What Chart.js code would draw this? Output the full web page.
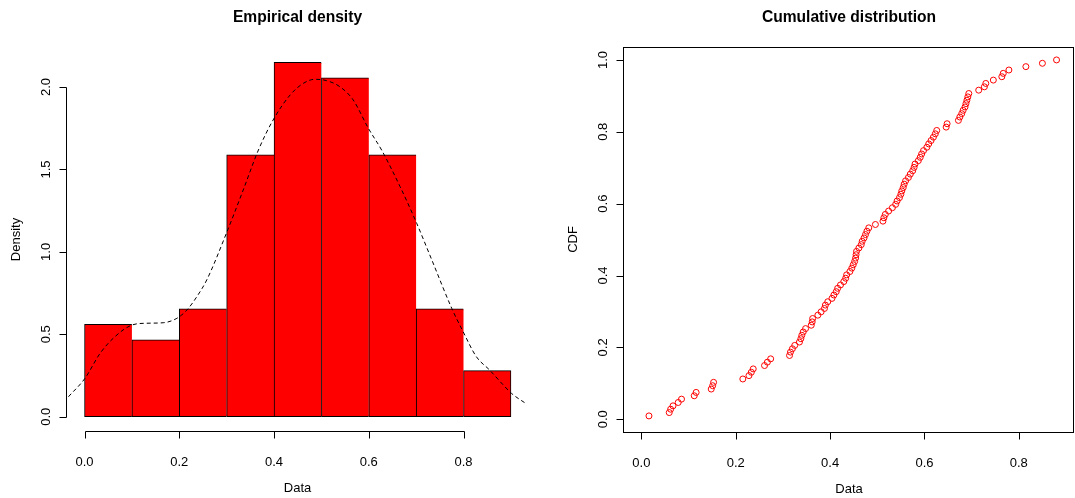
<!DOCTYPE html>
<html>
<head>
<meta charset="utf-8">
<script src="https://cdn.jsdelivr.net/npm/chart.js@4.4.0/dist/chart.umd.min.js"></script>
<style>
  body { margin: 0; background: #fff; }
  #wrap { position: relative; width: 1075px; height: 498px; }
  canvas { position: absolute; top: 0; }
</style>
</head>
<body>
<div id="wrap">
  <canvas id="densityChart" width="540" height="498" style="left:0"></canvas>
  <canvas id="cdfChart" width="535" height="498" style="left:540px"></canvas>
</div>
<script>
// histogram bins (width 0.1) and their densities
const binStarts = [0.0, 0.1, 0.2, 0.3, 0.4, 0.5, 0.6, 0.7, 0.8];
const binDensity = [0.561, 0.467, 0.654, 1.589, 2.150, 2.056, 1.589, 0.654, 0.280];

// kernel density curve
const kdeX = [-0.034, 0.001, 0.033, 0.064, 0.100, 0.131, 0.166, 0.195, 0.216, 0.237, 0.258,
              0.300, 0.335, 0.367, 0.398, 0.434, 0.462, 0.486, 0.511, 0.539, 0.567, 0.599, 0.627,
              0.666, 0.701, 0.733, 0.775, 0.799, 0.827, 0.855, 0.884, 0.901, 0.933];
const kdeY = [0.121, 0.233, 0.385, 0.485, 0.556, 0.567, 0.570, 0.597, 0.647, 0.728, 0.830,
              1.117, 1.376, 1.618, 1.800, 1.952, 2.023, 2.047, 2.039, 2.002, 1.922, 1.750, 1.618,
              1.396, 1.174, 0.951, 0.658, 0.516, 0.364, 0.283, 0.192, 0.142, 0.077];

// sorted sample values (n = 107)
const sample = [
  0.016, 0.059, 0.062, 0.067, 0.078, 0.085,
  0.112, 0.116, 0.148, 0.151, 0.153,
  0.215, 0.228, 0.233, 0.237, 0.261, 0.267, 0.274,
  0.314, 0.316, 0.320, 0.325, 0.335, 0.338, 0.340, 0.343, 0.348, 0.360, 0.362, 0.363, 0.374, 0.381, 0.388, 0.390, 0.395,
  0.404, 0.408, 0.413, 0.416, 0.422, 0.429, 0.433, 0.435, 0.442, 0.446, 0.449, 0.452, 0.454, 0.455, 0.456, 0.461, 0.466,
  0.468, 0.472, 0.475, 0.478, 0.482, 0.496,
  0.512, 0.514, 0.517, 0.524, 0.532, 0.539, 0.542, 0.547, 0.550, 0.552, 0.555, 0.557, 0.560, 0.566, 0.570, 0.575, 0.578,
  0.580, 0.587, 0.591, 0.594, 0.598,
  0.605, 0.609, 0.614, 0.619, 0.623, 0.626, 0.646, 0.648, 0.672, 0.675, 0.679, 0.682, 0.686, 0.688, 0.690, 0.692, 0.694,
  0.715, 0.727, 0.730, 0.746, 0.764, 0.767, 0.779,
  0.815, 0.850, 0.880
];

const xTicks = [0, 0.2, 0.4, 0.6, 0.8];
const densityTicks = [0, 0.5, 1.0, 1.5, 2.0];
const cdfTicks = [0, 0.2, 0.4, 0.6, 0.8, 1.0];

const FONT = '"Liberation Sans", Arial, Helvetica, sans-serif';

// R style axes drawn from the chart's own scales
const rAxes = {
  id: 'rAxes',
  afterDraw(chart, args, o) {
    const ctx = chart.ctx;
    const area = chart.chartArea;
    const sx = chart.scales.x, sy = chart.scales.y;
    ctx.save();
    ctx.strokeStyle = '#000';
    ctx.fillStyle = '#000';
    ctx.lineWidth = 1;

    const xb = Math.round(area.bottom) + 0.5;
    const yl = Math.round(area.left) - 0.5;

    ctx.beginPath();
    ctx.moveTo(Math.round(sx.getPixelForValue(o.xTicks[0])) + 0.5, xb);
    ctx.lineTo(Math.round(sx.getPixelForValue(o.xTicks[o.xTicks.length - 1])) + 0.5, xb);
    o.xTicks.forEach(v => {
      const p = Math.round(sx.getPixelForValue(v)) + 0.5;
      ctx.moveTo(p, xb);
      ctx.lineTo(p, xb + 7);
    });
    ctx.moveTo(yl, Math.round(sy.getPixelForValue(o.yTicks[0])) + 0.5);
    ctx.lineTo(yl, Math.round(sy.getPixelForValue(o.yTicks[o.yTicks.length - 1])) + 0.5);
    o.yTicks.forEach(v => {
      const p = Math.round(sy.getPixelForValue(v)) + 0.5;
      ctx.moveTo(yl, p);
      ctx.lineTo(yl - 7, p);
    });
    ctx.stroke();

    if (o.box) {
      ctx.strokeRect(yl, Math.round(area.top) + 0.5, Math.round(area.right) - yl - 0.5, xb - Math.round(area.top) - 0.5);
    }

    ctx.font = '13px ' + FONT;
    ctx.textAlign = 'center';
    ctx.textBaseline = 'alphabetic';
    o.xTicks.forEach(v => ctx.fillText(v.toFixed(1), sx.getPixelForValue(v), area.bottom + 35));
    ctx.fillText(o.xTitle, (area.left + area.right) / 2, area.bottom + 61);

    o.yTicks.forEach(v => {
      ctx.save();
      ctx.translate(area.left - 17, sy.getPixelForValue(v));
      ctx.rotate(-Math.PI / 2);
      ctx.fillText(v.toFixed(1), 0, 0);
      ctx.restore();
    });
    ctx.save();
    ctx.translate(area.left - 47, (area.top + area.bottom) / 2);
    ctx.rotate(-Math.PI / 2);
    ctx.fillText(o.yTitle, 0, 0);
    ctx.restore();

    ctx.font = 'bold 15.6px ' + FONT;
    ctx.fillText(o.title, (area.left + area.right) / 2, 22);
    ctx.restore();
  }
};

const bars = binStarts.map((b, i) => ({ x: b + 0.05, y: binDensity[i] }));
const kdePoints = kdeX.map((x, i) => ({ x: x, y: kdeY[i] }));

new Chart(document.getElementById('densityChart'), {
  type: 'bar',
  data: {
    datasets: [
      {
        type: 'line',
        data: kdePoints,
        borderColor: '#000',
        borderWidth: 1,
        borderDash: [4, 3],
        pointRadius: 0,
        fill: false,
        cubicInterpolationMode: 'monotone',
        order: 0
      },
      {
        type: 'bar',
        data: bars,
        backgroundColor: '#ff0000',
        borderColor: '#000',
        borderWidth: ctx => ({ top: 1, left: 1, bottom: 1, right: ctx.dataIndex === binStarts.length - 1 ? 1 : 0 }),
        borderSkipped: false,
        barPercentage: 1,
        categoryPercentage: 1,
        order: 1
      }
    ]
  },
  options: {
    responsive: false,
    animation: false,
    layout: { autoPadding: false, padding: { left: 67, right: 12, top: 48, bottom: 67 } },
    plugins: {
      legend: { display: false },
      tooltip: { enabled: false },
      rAxes: { xTicks: xTicks, yTicks: densityTicks, xTitle: 'Data', yTitle: 'Density', title: 'Empirical density', box: false }
    },
    scales: {
      x: { type: 'linear', min: -0.037, max: 0.936, offset: false, display: false },
      y: { type: 'linear', min: -0.0868, max: 2.237, display: false }
    }
  },
  plugins: [rAxes]
});

const cdfPoints = sample.map((v, i) => ({ x: v, y: (i + 1) / sample.length }));

new Chart(document.getElementById('cdfChart'), {
  type: 'scatter',
  data: {
    datasets: [{
      data: cdfPoints,
      pointStyle: 'circle',
      pointRadius: 3,
      pointBorderWidth: 1,
      borderColor: '#ff0000',
      backgroundColor: 'rgba(0,0,0,0)'
    }]
  },
  options: {
    responsive: false,
    animation: false,
    layout: { autoPadding: false, padding: { left: 84, right: 1, top: 47, bottom: 66 } },
    plugins: {
      legend: { display: false },
      tooltip: { enabled: false },
      rAxes: { xTicks: xTicks, yTicks: cdfTicks, xTitle: 'Data', yTitle: 'CDF', title: 'Cumulative distribution', box: true }
    },
    scales: {
      x: { type: 'linear', min: -0.0369, max: 0.917, display: false },
      y: { type: 'linear', min: -0.0354, max: 1.036, display: false }
    }
  },
  plugins: [rAxes]
});
</script>
</body>
</html>
